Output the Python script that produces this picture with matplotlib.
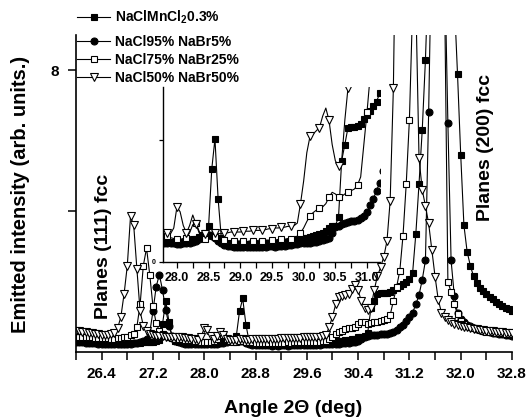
import numpy as np
import matplotlib
matplotlib.use("Agg")
import matplotlib.pyplot as plt
from matplotlib.ticker import MultipleLocator, FixedLocator, FormatStrFormatter

plt.rcParams["font.family"] = ["Liberation Sans", "DejaVu Sans"]
plt.rcParams["font.weight"] = "bold"
plt.rcParams["mathtext.fontset"] = "custom"
plt.rcParams["mathtext.rm"] = "Liberation Sans:bold"
plt.rcParams["mathtext.default"] = "rm"

# scan grid: 2-theta from 26.00 to 32.80 deg in 0.05 deg steps
angle_start, angle_stop, angle_step = 26.0, 32.8, 0.05
angle = np.round(np.arange(angle_start, angle_stop + angle_step / 2, angle_step), 2)

labels = ["NaClMnCl$_2$0.3%", "NaCl95% NaBr5%", "NaCl75% NaBr25%", "NaCl50% NaBr50%"]

# emitted intensity (arb. units), one value per grid angle
mncl2 = [
    0.32, 0.31, 0.30, 0.30, 0.29, 0.28, 0.28, 0.27, 0.27, 0.26,
    0.26, 0.25, 0.25, 0.24, 0.24, 0.24, 0.24, 0.25, 0.25, 0.26,
    0.26, 0.27, 0.27, 0.28, 0.29, 0.30, 0.35, 0.80, 1.45, 0.85,
    0.40, 0.30, 0.28, 0.27, 0.26, 0.26, 0.26, 0.25, 0.25, 0.24,
    0.24, 0.24, 0.25, 0.26, 0.27, 0.28, 0.29, 0.31, 0.33, 0.36,
    0.45, 1.15, 1.52, 0.78, 0.30, 0.24, 0.23, 0.22, 0.22, 0.22,
    0.22, 0.21, 0.22, 0.22, 0.21, 0.22, 0.22, 0.22, 0.23, 0.23,
    0.23, 0.23, 0.24, 0.24, 0.25, 0.25, 0.26, 0.27, 0.28, 0.29,
    0.30, 0.30, 0.31, 0.32, 0.33, 0.35, 0.36, 0.38, 0.42, 0.44,
    0.45, 0.55, 1.25, 1.45, 1.66, 1.67, 1.67, 1.68, 1.70, 1.76,
    1.82, 1.86, 1.92, 1.98, 2.08, 2.25, 3.35, 4.78, 6.30, 8.30,
    11.0, 14.0, 16.0, 17.0, 17.0, 16.0, 14.0, 12.0, 10.0, 7.90,
    5.60, 3.60, 2.85, 2.45, 2.15, 1.97, 1.83, 1.72, 1.64, 1.57,
    1.50, 1.43, 1.37, 1.31, 1.26, 1.21, 1.16,
]
nabr5 = [
    0.28, 0.27, 0.27, 0.26, 0.26, 0.25, 0.25, 0.24, 0.24, 0.24,
    0.23, 0.23, 0.23, 0.23, 0.23, 0.23, 0.24, 0.24, 0.25, 0.26,
    0.27, 0.30, 0.36, 0.55, 1.15, 1.85, 2.20, 1.75, 1.20, 0.75,
    0.45, 0.32, 0.27, 0.25, 0.24, 0.24, 0.23, 0.23, 0.23, 0.23,
    0.22, 0.22, 0.23, 0.23, 0.24, 0.25, 0.26, 0.28, 0.30, 0.32,
    0.33, 0.32, 0.30, 0.26, 0.23, 0.21, 0.20, 0.20, 0.19, 0.19,
    0.19, 0.18, 0.19, 0.18, 0.19, 0.19, 0.18, 0.19, 0.19, 0.20,
    0.20, 0.19, 0.20, 0.20, 0.20, 0.21, 0.21, 0.22, 0.22, 0.23,
    0.23, 0.24, 0.24, 0.25, 0.25, 0.26, 0.27, 0.28, 0.30, 0.36,
    0.43, 0.45, 0.47, 0.48, 0.49, 0.50, 0.51, 0.52, 0.54, 0.57,
    0.62, 0.70, 0.78, 0.88, 0.98, 1.12, 1.35, 1.62, 2.05, 2.60,
    6.80, 12.0, 15.0, 16.0, 15.0, 11.0, 6.50, 2.60, 1.60, 1.10,
    0.93, 0.84, 0.78, 0.73, 0.69, 0.66, 0.63, 0.61, 0.59, 0.57,
    0.55, 0.53, 0.51, 0.50, 0.49, 0.47, 0.46,
]
nabr25 = [
    0.45, 0.44, 0.44, 0.43, 0.42, 0.42, 0.41, 0.40, 0.40, 0.39,
    0.39, 0.38, 0.38, 0.39, 0.40, 0.42, 0.44, 0.47, 0.52, 0.72,
    1.35, 2.45, 2.95, 2.20, 1.30, 0.82, 0.60, 0.50, 0.45, 0.42,
    0.40, 0.38, 0.37, 0.36, 0.35, 0.34, 0.33, 0.32, 0.30, 0.29,
    0.28, 0.28, 0.29, 0.30, 0.36, 0.46, 0.48, 0.38, 0.30, 0.28,
    0.28, 0.30, 0.31, 0.29, 0.27, 0.27, 0.26, 0.26, 0.26, 0.26,
    0.26, 0.26, 0.25, 0.26, 0.26, 0.26, 0.27, 0.26, 0.27, 0.27,
    0.27, 0.27, 0.28, 0.28, 0.28, 0.29, 0.29, 0.30, 0.32, 0.36,
    0.42, 0.50, 0.57, 0.61, 0.64, 0.67, 0.68, 0.72, 0.80, 0.86,
    0.84, 0.80, 0.81, 0.84, 0.86, 0.88, 0.90, 0.95, 1.05, 1.45,
    1.85, 2.30, 3.30, 4.76, 6.60, 9.80, 13.0, 15.5, 17.0, 18.0,
    18.5, 18.5, 18.0, 17.0, 15.5, 10.0, 2.00, 1.70, 1.35, 1.08,
    0.88, 0.80, 0.74, 0.70, 0.67, 0.64, 0.62, 0.60, 0.58, 0.57,
    0.56, 0.55, 0.54, 0.53, 0.52, 0.51, 0.50,
]
nabr50 = [
    0.60, 0.59, 0.58, 0.57, 0.55, 0.54, 0.52, 0.50, 0.49, 0.48,
    0.48, 0.50, 0.55, 0.68, 1.00, 1.65, 2.45, 3.85, 3.60, 2.35,
    1.15, 0.75, 0.60, 0.52, 0.48, 0.46, 0.45, 0.45, 0.44, 0.44,
    0.43, 0.43, 0.42, 0.42, 0.41, 0.40, 0.38, 0.36, 0.35, 0.42,
    0.68, 0.62, 0.45, 0.36, 0.45, 0.58, 0.47, 0.36, 0.34, 0.34,
    0.35, 0.37, 0.36, 0.35, 0.35, 0.36, 0.36, 0.37, 0.37, 0.37,
    0.37, 0.38, 0.38, 0.38, 0.39, 0.39, 0.39, 0.40, 0.40, 0.41,
    0.41, 0.42, 0.42, 0.43, 0.43, 0.44, 0.44, 0.45, 0.48, 0.72,
    1.00, 1.35, 1.55, 1.58, 1.62, 1.66, 1.80, 1.90, 1.75, 1.45,
    1.25, 1.18, 1.25, 1.75, 2.15, 2.40, 2.70, 3.15, 4.30, 7.50,
    14.0, 18.0, 20.0, 20.0, 19.0, 17.0, 10.0, 5.50, 4.60, 4.15,
    3.65, 2.90, 2.14, 1.48, 1.12, 0.98, 0.90, 0.84, 0.80, 0.77,
    0.75, 0.72, 0.70, 0.68, 0.66, 0.64, 0.63, 0.62, 0.61, 0.60,
    0.59, 0.58, 0.57, 0.56, 0.55, 0.54, 0.53,
]

series = [mncl2, nabr5, nabr25, nabr50]
styles = [
    dict(marker="s", mfc="black", ms=4.8),
    dict(marker="o", mfc="black", ms=5.0),
    dict(marker="s", mfc="white", ms=4.8),
    dict(marker="v", mfc="white", ms=5.6),
]
inset_every = [1, 1, (1, 3), (1, 3)]

fig = plt.figure(figsize=(5.27, 4.19), dpi=100)
ax = fig.add_axes([76 / 527, 1 - 352 / 419, 436 / 527, 317 / 419])

lines = []
for y, st in zip(series, styles):
    (ln,) = ax.plot(angle, y, color="black", lw=0.8, mec="black", mew=0.8, **st)
    lines.append(ln)

ax.set_xlim(26.0, 32.8)
ax.set_ylim(0, 9.0)
for side in ("top", "right"):
    ax.spines[side].set_visible(False)
for side in ("left", "bottom"):
    ax.spines[side].set_linewidth(1.2)

ax.xaxis.set_major_locator(FixedLocator([26.4, 27.2, 28.0, 28.8, 29.6, 30.4, 31.2, 32.0, 32.8]))
ax.xaxis.set_major_formatter(FormatStrFormatter("%.1f"))
ax.xaxis.set_minor_locator(MultipleLocator(0.4))
ax.set_yticks([4, 8])
ax.set_yticklabels(["", "8"])
ax.tick_params(axis="x", which="both", direction="out", length=6, width=1.1, pad=5, labelsize=11)
ax.tick_params(axis="y", which="both", direction="out", length=6, width=1.1, pad=6, labelsize=11)

ax.set_xlabel("Angle 2Θ (deg)", fontsize=14, fontweight="bold", va="center")
ax.xaxis.set_label_coords((293 - 76) / 436, (352 - 408) / 317)
ax.set_ylabel("Emitted intensity (arb. units.)", fontsize=14.5, fontweight="bold", va="center")
ax.yaxis.set_label_coords((20 - 76) / 436, (352 - 194) / 317)

ax.text(26.43, 3.0, "Planes (111) fcc", rotation=90, ha="center", va="center",
        fontsize=14, fontweight="bold")
ax.text(32.39, 5.82, "Planes (200) fcc", rotation=90, ha="center", va="center",
        fontsize=14, fontweight="bold")

leg_kw = dict(loc="upper left", bbox_transform=fig.transFigure, frameon=False,
              fontsize=10, handlelength=2.4, handletextpad=0.35, borderpad=0,
              borderaxespad=0, labelspacing=0.3)
leg1 = ax.legend([lines[0]], [labels[0]], bbox_to_anchor=(77 / 527, 1 - 9 / 419), **leg_kw)
ax.add_artist(leg1)
ax.legend(lines[1:], labels[1:], bbox_to_anchor=(77 / 527, 1 - 35 / 419), **leg_kw)

# magnified view of the low-intensity region
ins = fig.add_axes([163 / 527, 1 - 262 / 419, 217 / 527, 175 / 419])
ins.set_facecolor("none")
for y, st, ev in zip(series, styles, inset_every):
    ins.plot(angle, y, color="black", lw=0.8, mec="black", mew=0.8, markevery=ev, **st)
ins.set_xlim(27.78, 31.205)
ins.set_ylim(0, 2.16)
for side in ("top", "right"):
    ins.spines[side].set_visible(False)
for side in ("left", "bottom"):
    ins.spines[side].set_linewidth(1.0)
ins.xaxis.set_major_locator(MultipleLocator(0.5))
ins.xaxis.set_major_formatter(FormatStrFormatter("%.1f"))
ins.xaxis.set_minor_locator(MultipleLocator(0.25))
ins.set_yticks([0, 1.5])
ins.set_yticklabels(["0", ""])
ins.tick_params(axis="x", which="both", direction="out", length=4, width=0.9, pad=3, labelsize=9)
ins.tick_params(axis="y", which="both", direction="out", length=3, width=0.9, pad=2, labelsize=5)

fig.savefig("out.png", dpi=100)
